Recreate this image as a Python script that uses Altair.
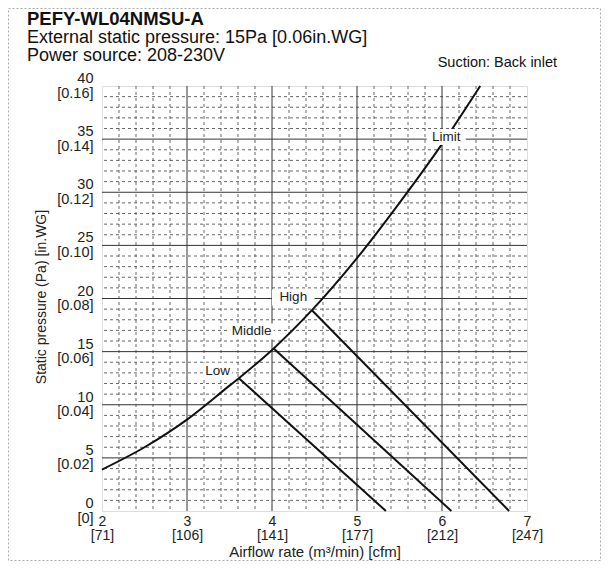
import altair as alt
import pandas as pd

# ---------------- data ----------------
# system (duct resistance) curve
sys_q = [2.0, 2.5, 3.0, 3.5, 3.61, 4.02, 4.47, 5.0, 5.5, 6.04, 6.45]
sys_p = [3.9, 6.0, 8.6, 11.8, 12.5, 15.3, 18.9, 23.8, 29.0, 35.0, 40.0]

# fan curves (Low / Middle / High)
fan_name = ["Low", "Low", "Middle", "Middle", "High", "High"]
fan_q = [3.61, 5.34, 4.02, 6.11, 4.47, 6.79]
fan_p = [12.5, 0.0, 15.3, 0.0, 18.9, 0.0]

# curve labels
lab_text = ["Limit", "High", "Middle", "Low"]
lab_q = [6.05, 4.25, 3.76, 3.36]
lab_p = [35.2, 20.1, 16.9, 13.2]
lab_halfw = [0.23, 0.25, 0.26, 0.17]   # half width of white label box (m3/min)
lab_halfh = 0.75                      # half height of white label box (Pa)

# axis ticks
x_ticks = [2, 3, 4, 5, 6, 7]
x_cfm = ["71", "106", "141", "177", "212", "247"]
y_ticks = [0, 5, 10, 15, 20, 25, 30, 35, 40]
y_inwg = ["0", "0.02", "0.04", "0.06", "0.08", "0.10", "0.12", "0.14", "0.16"]

# grid positions
minor_x = [round(2 + 0.2 * i, 1) for i in range(1, 25) if i % 5 != 0]
major_x = [3, 4, 5, 6]
minor_y = [v for v in range(1, 40) if v % 5 != 0]
major_y = [5, 10, 15, 20, 25, 30, 35]

FONT = "Liberation Sans"
W, H = 425, 425

xs = alt.Scale(domain=[2, 7], nice=False, zero=False)
ys = alt.Scale(domain=[0, 40], nice=False, zero=False)

x_label_expr = "[datum.label, '[' + " + str(x_cfm) + "[datum.value - 2] + ']']"
y_label_expr = "[datum.label, '[' + " + str(y_inwg) + "[round(datum.value / 5)] + ']']"

x_axis = alt.Axis(
    values=x_ticks, labelExpr=x_label_expr, grid=False, ticks=False, domain=False,
    labelFont=FONT, labelFontSize=14, labelColor="#222", labelLineHeight=14.5,
    labelBaseline="top", labelPadding=3, labelFlush=False, labelOverlap=False,
    title="Airflow rate (m³/min) [cfm]", titleFont=FONT, titleFontSize=15,
    titleFontWeight="normal", titleColor="#222", titleX=W / 2, titleY=45.5,
    titleBaseline="alphabetic", titleAlign="center",
)
y_axis = alt.Axis(
    values=y_ticks, labelExpr=y_label_expr, grid=False, ticks=False, domain=False,
    labelFont=FONT, labelFontSize=14.5, labelColor="#222", labelLineHeight=14.5,
    labelBaseline="middle", labelAlign="right", labelPadding=9, labelFlush=False,
    labelOverlap=False, labelOffset=-7.5,
    title="Static pressure (Pa) [in.WG]", titleFont=FONT, titleFontSize=14,
    titleFontWeight="normal", titleColor="#222", titleX=-57, titleY=210.5,
    titleAngle=-90, titleBaseline="alphabetic", titleAlign="center",
)

# ---------------- grid ----------------
minor_v = alt.Chart(pd.DataFrame({"q": minor_x})).mark_rule(
    color="#555", strokeWidth=0.9, strokeDash=[3, 3]
).encode(x=alt.X("q:Q", scale=xs, axis=x_axis))
minor_h = alt.Chart(pd.DataFrame({"p": minor_y})).mark_rule(
    color="#555", strokeWidth=0.9, strokeDash=[3, 3]
).encode(y=alt.Y("p:Q", scale=ys, axis=y_axis))
major_v = alt.Chart(pd.DataFrame({"q": major_x})).mark_rule(
    color="#333", strokeWidth=1
).encode(x=alt.X("q:Q", scale=xs, axis=x_axis))
major_h = alt.Chart(pd.DataFrame({"p": major_y})).mark_rule(
    color="#333", strokeWidth=1
).encode(y=alt.Y("p:Q", scale=ys, axis=y_axis))

# ---------------- curves ----------------
sys_df = pd.DataFrame({"q": sys_q, "p": sys_p, "i": range(len(sys_q))})
sys_line = alt.Chart(sys_df).mark_line(
    color="#111", strokeWidth=2, interpolate="monotone"
).encode(
    x=alt.X("q:Q", scale=xs, axis=x_axis),
    y=alt.Y("p:Q", scale=ys, axis=y_axis),
    order="i:Q",
)
fan_df = pd.DataFrame({"name": fan_name, "q": fan_q, "p": fan_p})
fan_lines = alt.Chart(fan_df).mark_line(color="#111", strokeWidth=2).encode(
    x=alt.X("q:Q", scale=xs, axis=x_axis),
    y=alt.Y("p:Q", scale=ys, axis=y_axis),
    detail="name:N",
)

# ---------------- labels ----------------
lab_df = pd.DataFrame({"t": lab_text, "q": lab_q, "p": lab_p})
lab_df["q1"] = [q - w for q, w in zip(lab_q, lab_halfw)]
lab_df["q2"] = [q + w for q, w in zip(lab_q, lab_halfw)]
lab_df["p1"] = [p - lab_halfh for p in lab_p]
lab_df["p2"] = [p + lab_halfh for p in lab_p]
lab_box = alt.Chart(lab_df).mark_rect(color="white").encode(
    x=alt.X("q1:Q", scale=xs, axis=x_axis), x2="q2:Q",
    y=alt.Y("p1:Q", scale=ys, axis=y_axis), y2="p2:Q",
)
lab_txt = alt.Chart(lab_df).mark_text(
    font=FONT, fontSize=13.5, color="#222", baseline="middle", align="center"
).encode(
    x=alt.X("q:Q", scale=xs, axis=x_axis),
    y=alt.Y("p:Q", scale=ys, axis=y_axis),
    text="t:N",
)

# ---------------- header texts ----------------
hdr = pd.DataFrame({"a": [0]})
def htext(txt, x, y, size, weight="normal", align="left"):
    return alt.Chart(hdr).mark_text(
        text=txt, font=FONT, fontSize=size, fontWeight=weight, color="#111",
        align=align, baseline="alphabetic",
    ).encode(x=alt.value(x), y=alt.value(y))

t1 = htext("PEFY-WL04NMSU-A", -75, -61.5, 18.5, "bold")
t2 = htext("External static pressure: 15Pa [0.06in.WG]", -75, -43.5, 18)
t3 = htext("Power source: 208-230V", -75, -25, 18)
t4 = htext("Suction: Back inlet", 455, -19, 14.5, align="right")

# outer dotted frame
frame = alt.Chart(hdr).mark_rect(
    fillOpacity=0, stroke="#aaa", strokeWidth=1, strokeDash=[2, 2]
).encode(x=alt.value(-93.5), x2=alt.value(498.5), y=alt.value(-77.5), y2=alt.value(474.5))

chart = alt.layer(
    minor_v, minor_h, major_v, major_h, sys_line, fan_lines, lab_box, lab_txt,
    t1, t2, t3, t4, frame,
).properties(
    width=W, height=H,
    padding={"left": 94, "top": 78, "right": 74, "bottom": 50},
    autosize=alt.AutoSizeParams(type="none"),
).configure_view(
    stroke="#111", strokeWidth=2
).configure(background="white")

chart.save("out.html", embed_options={"renderer": "svg", "actions": False})
